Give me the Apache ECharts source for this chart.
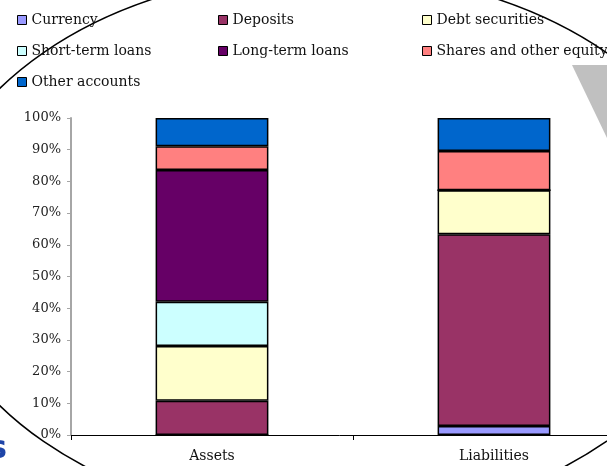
<!DOCTYPE html>
<html>
<head>
<meta charset="utf-8">
<script src="https://cdn.jsdelivr.net/npm/echarts@6/dist/echarts.min.js"></script>
<style>
  html, body { margin: 0; padding: 0; background: #ffffff; }
  #chart { width: 607px; height: 466px; }
</style>
</head>
<body>
<div id="chart"></div>
<script>
// ---- data (percent of total) ----
const categories = ['Assets', 'Liabilities'];
const currency       = [0, 2.8];
const deposits       = [10.8, 60.5];
const debtSecurities = [17.3, 13.9];
const shortTermLoans = [13.9, 0];
const longTermLoans  = [41.6, 0];
const sharesEquity   = [7.5, 12.4];
const otherAccounts  = [8.9, 10.4];
const yTickValues    = [0, 10, 20, 30, 40, 50, 60, 70, 80, 90, 100];

const seriesDefs = [
  { name: 'Currency',                data: currency,       color: '#9999FF' },
  { name: 'Deposits',                data: deposits,       color: '#993366' },
  { name: 'Debt securities',         data: debtSecurities, color: '#FFFFCC' },
  { name: 'Short-term loans',        data: shortTermLoans, color: '#CCFFFF' },
  { name: 'Long-term loans',         data: longTermLoans,  color: '#660066' },
  { name: 'Shares and other equity', data: sharesEquity,   color: '#FF8080' },
  { name: 'Other accounts',          data: otherAccounts,  color: '#0066CC' }
];

const serif = 'DejaVu Serif';
function makeLegend(names, left) {
  return {
    data: names,
    orient: 'vertical',
    left: left,
    top: 12,
    padding: 0,
    itemWidth: 9,
    itemHeight: 9,
    itemGap: 15,
    icon: 'rect',
    selectedMode: false,
    itemStyle: { borderColor: '#000', borderWidth: 1 },
    textStyle: { fontFamily: serif, fontSize: 14, color: '#111', lineHeight: 16 }
  };
}

const chart = echarts.init(document.getElementById('chart'), null, { renderer: 'canvas' });
chart.setOption({
  animation: false,
  backgroundColor: '#ffffff',
  graphic: [
    {
      type: 'ellipse', z: -1, silent: true,
      shape: { cx: 325, cy: 247, rx: 398, ry: 275 },
      style: { fill: 'none', stroke: '#000', lineWidth: 1.5 }
    },
    {
      type: 'polygon', z: -1, silent: true,
      shape: { points: [[572, 65], [607, 65], [607, 138]] },
      style: { fill: '#C0C0C0' }
    },
    {
      type: 'text', z: -1, silent: true,
      x: -12, y: 434,
      style: { text: 's', fontFamily: 'DejaVu Sans', fontWeight: 'bold', fontSize: 32, fill: '#1F45A8' }
    }
  ],
  legend: [
    makeLegend(['Currency', 'Short-term loans', 'Other accounts'], 17),
    makeLegend(['Deposits', 'Long-term loans'], 218),
    makeLegend(['Debt securities', 'Shares and other equity'], 422)
  ],
  grid: {
    left: 71, right: -28, top: 118, bottom: 31,
    containLabel: false,
    outerBoundsMode: 'none'
  },
  xAxis: {
    type: 'category',
    data: categories,
    axisLine: { lineStyle: { color: '#000', width: 1 } },
    axisTick: { show: true, length: 5, lineStyle: { color: '#000' } },
    axisLabel: { fontFamily: serif, fontSize: 14, color: '#111', margin: 14 },
    splitLine: { show: false }
  },
  yAxis: {
    type: 'value',
    min: yTickValues[0],
    max: yTickValues[yTickValues.length - 1],
    interval: 10,
    axisLine: { show: true, lineStyle: { color: '#A6A6A6', width: 2 } },
    axisTick: { show: true, length: 4, lineStyle: { color: '#A6A6A6' } },
    axisLabel: { fontFamily: serif, fontSize: 13, color: '#222', margin: 10, formatter: '{value}%' },
    splitLine: { show: false }
  },
  series: seriesDefs.map(s => ({
    name: s.name,
    type: 'bar',
    stack: 'total',
    barWidth: '40%',
    data: s.data,
    itemStyle: { color: s.color, borderColor: '#000', borderWidth: 1.5 },
    emphasis: { disabled: true }
  }))
});
</script>
</body>
</html>
